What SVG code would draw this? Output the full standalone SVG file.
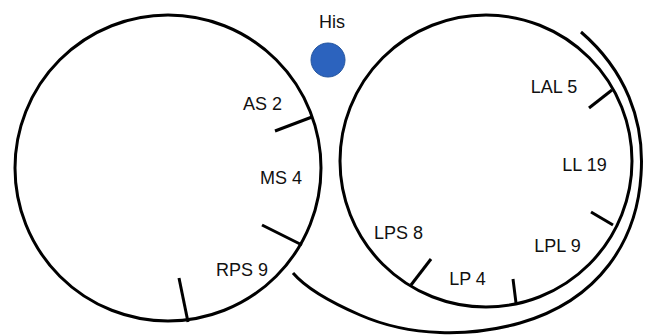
<svg xmlns="http://www.w3.org/2000/svg" width="645" height="335" viewBox="0 0 645 335">
<style>
.ln{fill:none;stroke:#000;stroke-width:3;stroke-linecap:butt}
.t{font-family:"Liberation Sans",Arial,sans-serif;font-size:18px;fill:#111;text-anchor:middle}
</style>
<rect width="645" height="335" fill="#fff"/>
<g id="left-ring">
<circle class="ln" cx="168" cy="168" r="153"/>
<line class="ln" x1="312" y1="117" x2="275" y2="131"/>
<line class="ln" x1="302" y1="245" x2="262" y2="225"/>
<line class="ln" x1="188" y1="322" x2="179" y2="278"/>
<text class="t" x="262.5" y="110">AS 2</text>
<text class="t" x="281" y="184">MS 4</text>
<text class="t" x="242" y="276">RPS 9</text>
</g>
<g id="right-ring">
<circle class="ln" cx="486" cy="161" r="146"/>
<line class="ln" x1="612" y1="90" x2="589" y2="108"/>
<line class="ln" x1="613" y1="225" x2="591" y2="212"/>
<line class="ln" x1="516" y1="303" x2="513" y2="279"/>
<line class="ln" x1="411" y1="285" x2="431" y2="259"/>
<text class="t" x="554" y="93">LAL 5</text>
<text class="t" x="584.5" y="171">LL 19</text>
<text class="t" x="557.5" y="252">LPL 9</text>
<text class="t" x="398.5" y="239">LPS 8</text>
<text class="t" x="467.5" y="285">LP 4</text>
</g>
<g id="his">
<circle cx="328" cy="60" r="17" fill="#2c63be" stroke="#24559f" stroke-width="1"/>
<text class="t" x="332" y="28">His</text>
</g>
<g id="connectors">
<path class="ln" d="M581,32 C625,70 645,120 641,175 C637,240 600,300 520,323 C470,337 410,337 360,315 C330,302 305,287 293,273"/>
</g>
</svg>
